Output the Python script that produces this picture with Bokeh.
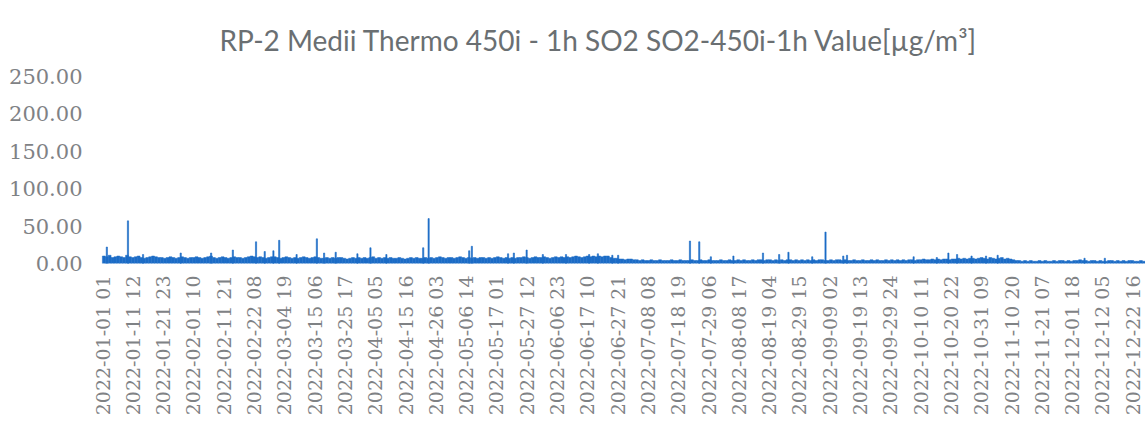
import math
import pandas as pd
from bokeh.plotting import figure
from bokeh.models import Range1d, FixedTicker, ColumnDataSource, PrintfTickFormatter
from bokeh.embed import file_html
from bokeh.resources import INLINE

title_text = "RP-2 Medii Thermo 450i - 1h SO2 SO2-450i-1h Value[µg/m³]"

tick_labels = [
    "2022-01-01 01", "2022-01-11 12", "2022-01-21 23", "2022-02-01 10", "2022-02-11 21",
    "2022-02-22 08", "2022-03-04 19", "2022-03-15 06", "2022-03-25 17", "2022-04-05 05",
    "2022-04-15 16", "2022-04-26 03", "2022-05-06 14", "2022-05-17 01", "2022-05-27 12",
    "2022-06-06 23", "2022-06-17 10", "2022-06-27 21", "2022-07-08 08", "2022-07-18 19",
    "2022-07-29 06", "2022-08-08 17", "2022-08-19 04", "2022-08-29 15", "2022-09-09 02",
    "2022-09-19 13", "2022-09-29 24", "2022-10-10 11", "2022-10-20 22", "2022-10-31 09",
    "2022-11-10 20", "2022-11-21 07", "2022-12-01 18", "2022-12-12 05", "2022-12-22 16",
]

y_ticks = [0, 50, 100, 150, 200, 250]

# daily level of the SO2 band (µg/m³), 2022-01-01 .. 2022-12-31
jan = [10, 9, 11, 8, 9, 10, 9, 8, 11, 9, 8, 9, 10, 8, 7, 8, 9, 10, 9, 8, 8, 7, 8, 9, 8, 7, 8, 9, 8, 7, 8]
feb = [8, 9, 8, 7, 8, 9, 10, 8, 7, 8, 9, 8, 7, 8, 9, 8, 8, 7, 8, 9, 10, 9, 8, 9, 8, 7, 8, 9]
mar = [9, 8, 7, 8, 9, 8, 7, 8, 7, 8, 9, 8, 7, 8, 9, 8, 7, 7, 8, 7, 8, 7, 8, 8, 7, 6, 7, 8, 7, 8, 7]
apr = [8, 7, 8, 9, 7, 8, 7, 8, 7, 8, 7, 7, 8, 7, 6, 7, 8, 7, 8, 7, 7, 8, 7, 8, 7, 8, 9, 8, 7, 8]
may = [8, 7, 8, 9, 8, 7, 8, 7, 8, 7, 8, 8, 7, 8, 7, 8, 9, 8, 7, 8, 7, 8, 7, 8, 8, 9, 8, 7, 8, 9, 8]
jun = [8, 9, 8, 7, 8, 9, 8, 9, 8, 9, 8, 9, 10, 9, 8, 9, 10, 9, 10, 9, 10, 9, 10, 10, 8, 7, 7, 6, 6, 5]
jul = [6, 6, 5, 5, 4, 5, 4, 4, 5, 4, 4, 5, 4, 4, 4, 5, 4, 4, 5, 4, 4, 4, 5, 4, 4, 5, 4, 4, 5, 4, 4]
aug = [4, 5, 4, 4, 5, 4, 4, 5, 4, 5, 4, 4, 5, 4, 5, 5, 4, 5, 5, 4, 5, 4, 5, 4, 5, 5, 4, 5, 4, 5, 4]
sep = [5, 4, 5, 4, 5, 5, 4, 4, 5, 4, 5, 5, 4, 5, 4, 4, 5, 4, 4, 5, 4, 4, 5, 4, 5, 4, 4, 5, 4, 5]
oct_ = [4, 5, 4, 5, 4, 5, 5, 4, 5, 5, 6, 5, 5, 6, 5, 6, 5, 6, 6, 5, 6, 6, 7, 6, 7, 6, 7, 7, 6, 7, 8]
nov = [7, 6, 8, 7, 6, 7, 8, 6, 7, 6, 5, 4, 4, 3, 4, 3, 4, 3, 3, 4, 3, 4, 3, 3, 4, 3, 4, 4, 3, 4]
dec = [3, 4, 4, 5, 4, 4, 3, 4, 4, 3, 4, 3, 3, 4, 4, 3, 4, 3, 4, 3, 4, 4, 3, 3, 4, 3, 4, 3, 3, 4, 3]
daily_values = jan + feb + mar + apr + may + jun + jul + aug + sep + oct_ + nov + dec

# hourly peaks
spike_times = [
    "2022-01-02 13", "2022-01-09 20", "2022-01-15 01", "2022-01-28 01", "2022-02-07 13",
    "2022-02-15 01", "2022-02-23 01", "2022-02-26 01", "2022-03-01 01", "2022-03-03 01",
    "2022-03-09 01", "2022-03-16 01", "2022-03-18 13", "2022-03-22 13", "2022-03-30 01",
    "2022-04-03 13", "2022-04-09 01", "2022-04-21 18", "2022-04-23 15", "2022-05-07 15",
    "2022-05-08 13", "2022-05-21 01", "2022-05-23 01", "2022-05-27 11", "2022-06-02 01",
    "2022-06-10 01", "2022-06-18 01", "2022-06-21 01", "2022-06-26 01", "2022-06-28 01",
    "2022-07-22 20", "2022-07-26 01", "2022-07-30 01", "2022-08-06 20", "2022-08-17 01",
    "2022-08-22 15", "2022-08-25 20", "2022-09-03 01", "2022-09-07 15", "2022-09-13 18",
    "2022-09-15 01", "2022-10-08 01", "2022-10-16 01", "2022-10-20 01", "2022-10-23 01",
    "2022-10-28 01", "2022-11-02 01", "2022-11-06 01", "2022-12-06 01", "2022-12-13 01",
]
spike_values = [
    22, 57, 12, 14, 14,
    18, 29, 16, 17, 31,
    12, 33, 14, 15, 13,
    21, 12, 21, 60, 17,
    23, 13, 14, 18, 12,
    12, 12, 13, 11, 11,
    30, 29, 9, 10, 14,
    12, 15, 9, 42, 10,
    11, 9, 8, 14, 12,
    10, 10, 11, 7, 7,
]

BLUE = "#1c6cc6"
start = pd.Timestamp("2022-01-01 01:00")
hour = pd.Timedelta(hours=1)


def label_hour(lbl):
    t = pd.Timestamp(lbl[:10]) + pd.Timedelta(hours=int(lbl[11:]))
    return float((t - start) / hour)


days = pd.date_range("2022-01-01", periods=len(daily_values), freq="D")
day_x = [float((d - start) / hour) + 12.0 for d in days]
spike_x = [label_hour(s) for s in spike_times]
tick_x = [label_hour(s) for s in tick_labels]

p = figure(
    frame_width=1050, frame_height=187,
    x_range=Range1d(-58, 8641), y_range=Range1d(0, 250),
    output_backend="svg", toolbar_location=None,
    min_border_left=95, min_border_right=0, min_border_top=75, min_border_bottom=0,
)
p.outline_line_color = None
p.background_fill_color = "white"
p.border_fill_color = "white"

p.title.text = title_text
p.title.align = "left"
p.title.offset = 124
p.title.standoff = 40
p.title.text_font = "Lato"
p.title.text_font_size = "28px"
p.title.text_font_style = "normal"
p.title.text_color = "#6a6f72"

daily_src = ColumnDataSource(dict(x=day_x, top=daily_values))
spike_src = ColumnDataSource(dict(x=spike_x, top=spike_values))
p.vbar(x="x", top="top", bottom=0, width=24, source=daily_src,
       fill_color=BLUE, line_color=BLUE, line_width=0.5)
p.vbar(x="x", top="top", bottom=0, width=10, source=spike_src,
       fill_color=BLUE, line_color=BLUE, line_width=0.6)

p.xgrid.grid_line_color = None
p.ygrid.grid_line_color = None

p.yaxis.ticker = FixedTicker(ticks=y_ticks)
p.yaxis.formatter = PrintfTickFormatter(format="%.2f")
p.yaxis.axis_line_color = None
p.yaxis.major_tick_line_color = None
p.yaxis.minor_tick_line_color = None
p.yaxis.major_label_text_font = "DejaVu Serif"
p.yaxis.major_label_text_font_size = "21px"
p.yaxis.major_label_text_color = "#7f8285"
p.yaxis.major_label_standoff = 7

p.xaxis.ticker = FixedTicker(ticks=tick_x)
p.xaxis.major_label_overrides = {t: l for t, l in zip(tick_x, tick_labels)}
p.xaxis.major_label_orientation = math.pi / 2
p.xaxis.axis_line_color = None
p.xaxis.major_tick_line_color = None
p.xaxis.minor_tick_line_color = None
p.xaxis.major_label_text_font = "DejaVu Serif"
p.xaxis.major_label_text_font_size = "19px"
p.xaxis.major_label_text_color = "#7f8285"
p.xaxis.major_label_standoff = 6

open("out.html", "w").write(file_html(p, INLINE))
